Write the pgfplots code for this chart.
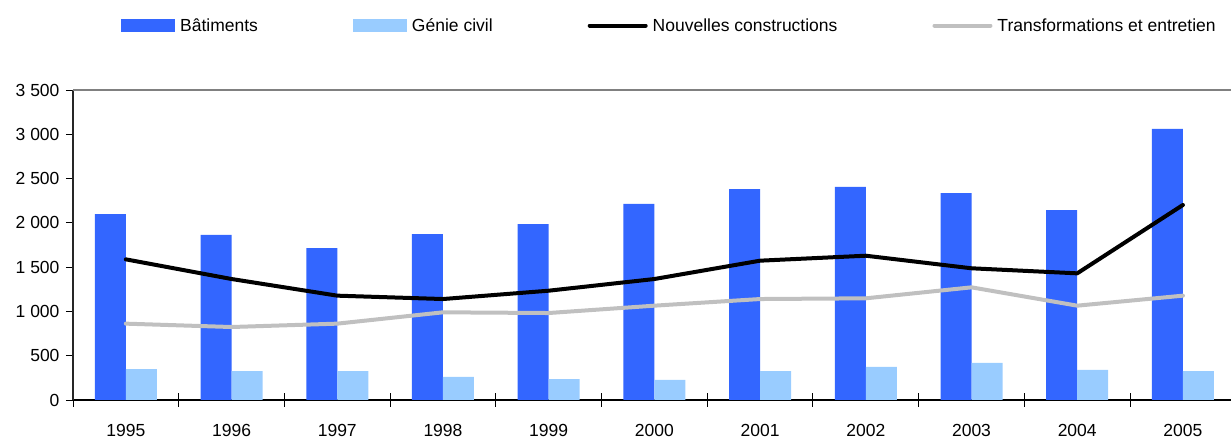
\documentclass[border=0pt]{standalone}
\usepackage{fontspec}
\setmainfont{Liberation Sans}
\usepackage{pgfplots}
\pgfplotsset{compat=1.18}
\definecolor{bat}{HTML}{3366FF}
\definecolor{gen}{HTML}{99CCFF}
\definecolor{tra}{HTML}{C0C0C0}
\begin{document}
\begin{tikzpicture}[font=\fontsize{17.5bp}{21bp}\selectfont]
\path[use as bounding box] (0,0) rectangle (1231bp,439bp);
\begin{axis}[
  at={(73bp,39bp)}, anchor=south west,
  scale only axis, width=1158bp, height=310bp,
  xmin=-0.5, xmax=10.455, ymin=0, ymax=3500,
  ybar=0pt, bar width=31bp,
  axis x line*=bottom, axis y line*=left,
  x axis line style={black, line width=1.3bp},
  y axis line style={black!85, line width=1.3bp},
  xtick={0,1,2,3,4,5,6,7,8,9,10},
  xticklabels={1995,1996,1997,1998,1999,2000,2001,2002,2003,2004,2005},
  major x tick style={draw=none},
  minor xtick={-0.5,0.5,1.5,2.5,3.5,4.5,5.5,6.5,7.5,8.5,9.5},
  minor tick length=14bp,
  minor x tick style={yshift=7bp, draw=black, line width=1bp},
  ytick={0,500,1000,1500,2000,2500,3000,3500},
  yticklabels={0,500,1 000,1 500,2 000,2 500,3 000,3 500},
  major tick length=7bp,
  tick align=outside,
  major y tick style={black, line width=1bp},
  yticklabel style={xshift=-3bp},
  xticklabel style={yshift=-13.5bp},
  /pgf/number format/assume math mode=true,
  legend columns=4,
  legend cell align=left,
  legend style={at={(rel axis cs:0.04145,1.208)}, anchor=west, draw=none, fill=none, inner sep=0pt,
    /tikz/every even column/.append style={column sep=93bp},
    /tikz/every odd column/.append style={column sep=3bp}},
  after end axis/.code={\draw[color=gray, line width=1.5bp] (rel axis cs:0,1) -- (rel axis cs:1,1);},
]
\addplot[fill=bat, draw=none, legend image code/.code={\fill[bat] (0bp,-6.5bp) rectangle (54bp,6.5bp);}]
  coordinates {(0,2100) (1,1863) (2,1716) (3,1874) (4,1987) (5,2213) (6,2382) (7,2405) (8,2337) (9,2145) (10,3060)};
\addlegendentry{Bâtiments}
\addplot[fill=gen, draw=none, legend image code/.code={\fill[gen] (0bp,-6.5bp) rectangle (54bp,6.5bp);}]
  coordinates {(0,350) (1,327) (2,327) (3,260) (4,237) (5,226) (6,327) (7,373) (8,418) (9,339) (10,327)};
\addlegendentry{Génie civil}
\addplot[sharp plot, black, line width=4bp, line cap=round, line join=round, legend image code/.code={\draw[black, line width=4bp, line cap=round] (0bp,0bp) -- (56bp,0bp);}]
  coordinates {(0,1588) (1,1366) (2,1178) (3,1140) (4,1234) (5,1366) (6,1573) (7,1629) (8,1487) (9,1430) (10,2202)};
\addlegendentry{Nouvelles constructions}
\addplot[sharp plot, tra, line width=4bp, line cap=round, line join=round, legend image code/.code={\draw[tra, line width=4bp, line cap=round] (0bp,0bp) -- (56bp,0bp);}]
  coordinates {(0,862) (1,824) (2,862) (3,990) (4,982) (5,1065) (6,1140) (7,1148) (8,1272) (9,1065) (10,1178)};
\addlegendentry{Transformations et entretien}
\end{axis}
\end{tikzpicture}
\end{document}
